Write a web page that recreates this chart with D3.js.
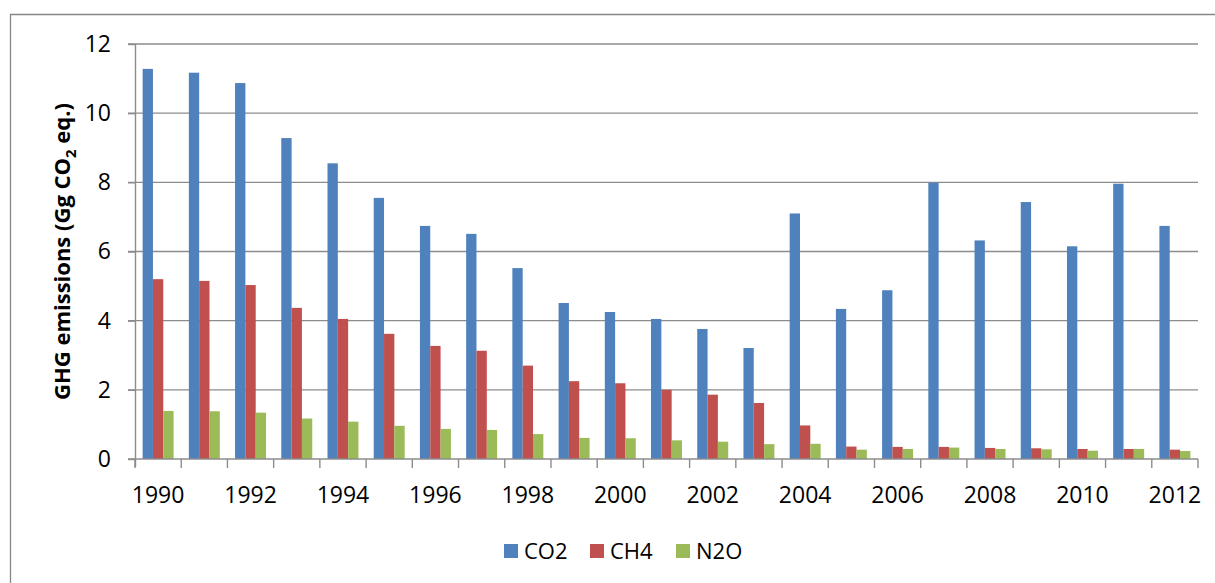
<!DOCTYPE html>
<html>
<head>
<meta charset="utf-8">
<script src="https://cdn.jsdelivr.net/npm/d3@7"></script>
<style>
  body { margin: 0; background: #fff; }
  text { font-family: "Open Sans", "Noto Sans", sans-serif; fill: #000; }
</style>
</head>
<body>
<div id="chart"></div>
<script>
// Data
var years = ["1990","1991","1992","1993","1994","1995","1996","1997","1998","1999","2000",
             "2001","2002","2003","2004","2005","2006","2007","2008","2009","2010","2011","2012"];
var co2 = [11.28, 11.17, 10.87, 9.28, 8.55, 7.55, 6.74, 6.51, 5.52, 4.51, 4.25,
           4.05, 3.76, 3.21, 7.1, 4.34, 4.88, 7.99, 6.32, 7.43, 6.15, 7.96, 6.74];
var ch4 = [5.2, 5.15, 5.03, 4.37, 4.05, 3.62, 3.27, 3.13, 2.7, 2.25, 2.19,
           2.0, 1.86, 1.62, 0.97, 0.36, 0.35, 0.35, 0.32, 0.31, 0.29, 0.29, 0.27];
var n2o = [1.39, 1.38, 1.34, 1.17, 1.08, 0.96, 0.87, 0.84, 0.72, 0.61, 0.60,
           0.54, 0.50, 0.43, 0.44, 0.27, 0.29, 0.33, 0.29, 0.28, 0.24, 0.29, 0.23];
var seriesNames = ["CO2", "CH4", "N2O"];
var seriesColors = ["#4F81BD", "#C0504D", "#9BBB59"];
var yTicks = [0, 2, 4, 6, 8, 10, 12];

var svgWidth = 1215, svgHeight = 583;
var margin = { top: 44, right: 17, bottom: 124, left: 135 };
var width = svgWidth - margin.left - margin.right;
var height = svgHeight - margin.top - margin.bottom;

var svg = d3.select("#chart").append("svg")
    .attr("width", svgWidth)
    .attr("height", svgHeight);

// outer chart frame (runs off the picture on right/bottom)
svg.append("path")
    .attr("d", "M10.5,583 L10.5,14.5 L1215,14.5")
    .attr("fill", "none")
    .attr("stroke", "#868686")
    .attr("stroke-width", 1.3);

var chartGroup = svg.append("g")
    .attr("transform", `translate(${margin.left}, ${margin.top})`);

var x0 = d3.scaleBand().domain(years).range([0, width]).paddingInner(0.33).paddingOuter(0.165);
var x1 = d3.scaleBand().domain(seriesNames).range([0, x0.bandwidth()]);
var xCat = d3.scaleBand().domain(years).range([0, width]);
var y = d3.scaleLinear().domain([0, 12]).range([height, 0]);

// gridlines
chartGroup.append("g")
    .selectAll("line")
    .data(yTicks.filter(d => d > 0))
    .enter().append("line")
    .attr("x1", -7).attr("x2", width)
    .attr("y1", d => y(d)).attr("y2", d => y(d))
    .attr("stroke", "#8c8c8c")
    .attr("stroke-width", 1.4);

// bars
var data = years.map((yr, i) => ({ year: yr, values: [co2[i], ch4[i], n2o[i]] }));
var groups = chartGroup.selectAll(".yr")
    .data(data)
    .enter().append("g")
    .attr("transform", d => `translate(${x0(d.year)},0)`);

groups.selectAll("rect")
    .data(d => d.values.map((v, j) => ({ key: seriesNames[j], value: v, color: seriesColors[j] })))
    .enter().append("rect")
    .attr("x", d => x1(d.key))
    .attr("y", d => y(d.value))
    .attr("width", x1.bandwidth())
    .attr("height", d => height - y(d.value))
    .attr("fill", d => d.color);

// y axis
var leftAxis = d3.axisLeft(y).tickValues(yTicks).tickSize(7).tickPadding(17);
var yAxis = chartGroup.append("g").call(leftAxis);
yAxis.select(".domain").attr("stroke", "#8c8c8c").attr("stroke-width", 1.4).attr("d", `M0.5,${height + 8}V0`);
yAxis.selectAll(".tick line").attr("stroke", "#8c8c8c").attr("stroke-width", 1.4);
yAxis.selectAll("text").style("font-size", "23px").style("font-family", "'Open Sans', sans-serif").attr("fill", "#000");

// x axis: tick marks on category boundaries, labels every other year
var xAxisG = chartGroup.append("g").attr("transform", `translate(0, ${height})`);
xAxisG.append("line")
    .attr("x1", -7).attr("x2", width)
    .attr("y1", 0).attr("y2", 0)
    .attr("stroke", "#8c8c8c").attr("stroke-width", 1.4);
xAxisG.selectAll(".xt")
    .data(years.concat(["end"]))
    .enter().append("line")
    .attr("x1", (d, i) => i * xCat.step())
    .attr("x2", (d, i) => i * xCat.step())
    .attr("y1", 0).attr("y2", 9)
    .attr("stroke", "#8c8c8c").attr("stroke-width", 1.4);
xAxisG.selectAll(".xl")
    .data(years.filter((d, i) => i % 2 === 0))
    .enter().append("text")
    .attr("x", d => xCat(d) + xCat.bandwidth() / 2)
    .attr("y", 44)
    .attr("text-anchor", "middle")
    .style("font-size", "23px")
    .text(d => d);

// y axis title
var yTitle = svg.append("text")
    .attr("transform", `translate(70, ${margin.top + height / 2}) rotate(-90)`)
    .attr("text-anchor", "middle")
    .style("font-size", "22px")
    .style("font-weight", "bold");
yTitle.append("tspan").text("GHG emissions (Gg CO");
yTitle.append("tspan").attr("dy", 6).style("font-size", "15px").text("2");
yTitle.append("tspan").attr("dy", -6).text(" eq.)");

// legend
var legendX = [504, 590, 676];
var legend = svg.append("g");
seriesNames.forEach((name, i) => {
    legend.append("rect")
        .attr("x", legendX[i]).attr("y", 544)
        .attr("width", 14).attr("height", 14)
        .attr("fill", seriesColors[i]);
    legend.append("text")
        .attr("x", legendX[i] + 20).attr("y", 559)
        .style("font-size", "22px")
        .text(name);
});
</script>
</body>
</html>
